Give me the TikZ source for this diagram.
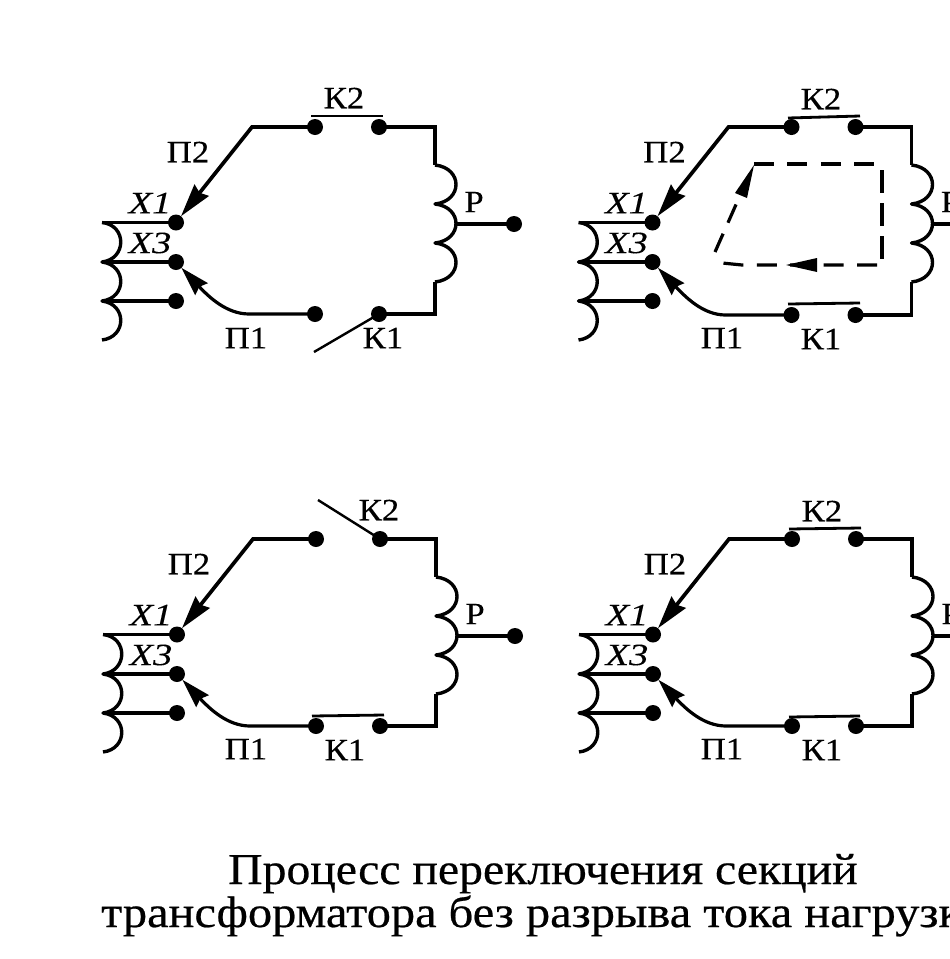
\documentclass[tikz,border=0pt]{standalone}
\usepackage{fontspec}
\setmainfont{Liberation Serif}
\newfontfamily\ttlfont[FakeStretch=1.084,FakeBold=0.5]{Liberation Serif}
\newfontfamily\ttlfontb[FakeStretch=1.10,FakeBold=0.5]{Liberation Serif}
\newfontfamily\lblfont[FakeStretch=1.12,FakeBold=0.3]{Liberation Serif}
\newfontfamily\xfont[FakeStretch=1.24,FakeBold=0.2]{Liberation Serif Italic}
\usetikzlibrary{arrows.meta}
\tikzset{
  x=1pt,y=-1pt,
  wire/.style={line width=3.7pt,line join=miter},
  coilw/.style={line width=3.4pt,line join=round},
  bar/.style={line width=2.8pt},
  blade/.style={line width=2.4pt},
  dot/.style={circle,fill=black,inner sep=0pt,minimum size=16pt,outer sep=-1.5pt},
  lbl/.style={inner sep=0pt,font=\fontsize{31}{31}\lblfont},
  xlbl/.style={inner sep=0pt,font=\fontsize{31}{31}\xfont},
  ttl/.style={inner sep=0pt,anchor=base west,font=\fontsize{44}{44}\ttlfont},
  ttlb/.style={inner sep=0pt,anchor=base west,font=\fontsize{44}{44}\ttlfontb},
  arr2/.style={-{Stealth[length=33pt,width=18pt,inset=3pt]},shorten >=1.5pt},
  arr1/.style={-{Stealth[length=29pt,width=17pt,inset=3pt]},shorten >=1.5pt},
  loopd/.style={line width=3.2pt,dash pattern=on 20pt off 13.4pt},
}
% #1 prefix, #2 dx, #3 dy, #4 bottom y
\newcommand{\sectionpanel}[4]{%
 \begin{scope}[shift={(#2,#3)}]
  \node[dot] (#1x1) at (176,222.5) {};
  \node[dot] (#1x3) at (176,262) {};
  \node[dot] (#1x5) at (176,301) {};
  \coordinate (#1c0) at (102,222.5);
  \coordinate (#1c1) at (102,262);
  \coordinate (#1c2) at (102,301);
  \coordinate (#1c3) at (102,340);
  \draw[coilw] (#1c0) .. controls (127,225) and (127,259) .. (#1c1)
     .. controls (127,265) and (127,298) .. (#1c2)
     .. controls (127,304) and (127,337) .. (#1c3);
  \draw[wire] (#1c0) -- (#1x1);
  \draw[wire] (#1c1) -- (#1x3);
  \draw[wire] (#1c2) -- (#1x5);
  \node[dot] (#1k2a) at (315,127) {};
  \node[dot] (#1k2b) at (379,127) {};
  \node[dot] (#1k1a) at (315,#4) {};
  \node[dot] (#1k1b) at (379,#4) {};
  \node[dot] (#1out) at (514,224) {};
  \coordinate (#1tl) at (252,127);
  \coordinate (#1tr) at (435,127);
  \coordinate (#1r0) at (435,165);
  \coordinate (#1r1) at (435,204);
  \coordinate (#1r2) at (435,243);
  \coordinate (#1r3) at (435,282);
  \coordinate (#1br) at (435,#4);
  \coordinate (#1bl) at (249,#4);
  \coordinate (#1tap) at (455,224);
  \draw[wire,arr2] (#1k2a) -- (#1tl) -- (#1x1);
  \draw[wire] (#1k2b) -- (#1tr) -- (#1r0);
  \draw[coilw] (#1r0) .. controls (463,168) and (463,201) .. (#1r1)
     .. controls (463,207) and (463,240) .. (#1r2)
     .. controls (463,246) and (463,279) .. (#1r3);
  \draw[wire] (#1r3) -- (#1br) -- (#1k1b);
  \draw[wire] (#1tap) -- (#1out);
  \draw[line width=3.2pt,arr1] (#1k1a) -- (#1bl) .. controls (226,#4) and (208,296) .. (#1x3);
  \node[xlbl] (#1lx1) at (150,203) {X1};
  \node[xlbl] (#1lx3) at (150,243) {X3};
  \node[lbl] (#1lp2) at (188,152) {П2};
  \node[lbl] (#1lr) at (474,202) {Р};
 \end{scope}}
\begin{document}
\begin{tikzpicture}
\useasboundingbox (0,0) rectangle (950,959);
\clip (0,0) rectangle (950,959);
\fill[white] (0,0) rectangle (950,959);

% top left: K1 open
\sectionpanel{a}{0}{0}{314}
\coordinate (aopen) at (314,352);
\draw[bar] (311,116) -- (383,116);
\draw[blade] (ak1b) -- (aopen);
\node[lbl] (ak2) at (344,98) {К2};
\node[lbl] (ak1) at (383,338) {К1};
\node[lbl] (ap1) at (246,338) {П1};

% top right: both closed, with current loop
\sectionpanel{b}{476.5}{0}{315}
\draw[bar] (788,118) -- (860,116);
\draw[bar] (788,304) -- (860,303);
\node[lbl] (bk2) at (821,99) {К2};
\node[lbl] (bk1) at (821,339) {К1};
\node[lbl] (bp1) at (722,338) {П1};
\coordinate (d1) at (754,164);
\coordinate (d2) at (877,164);
\coordinate (d3) at (882,170);
\coordinate (d4) at (882,259);
\coordinate (d5) at (877,265);
\coordinate (d6) at (742,265);
\coordinate (d7) at (722,263);
\coordinate (d8) at (715,252);
\coordinate (d9) at (746,182);
\draw[loopd] (d1) -- (d2);
\draw[line width=3.2pt,dash pattern=on 23pt off 10pt] (d3) -- (d4);
\draw[loopd] (d5) -- (d6) -- (d7);
\draw[line width=3.2pt,dash pattern=on 20pt off 12pt] (d8) -- (d9);
\fill (754,165) -- (735,193) -- (747,198) -- cycle;
\fill (786,265) -- (817,258) -- (817,272) -- cycle;

% bottom left: K2 open
\sectionpanel{c}{1}{412}{314}
\coordinate (copen) at (318,500);
\draw[bar] (312,716) -- (384,715);
\draw[blade] (ck2b) -- (copen);
\node[lbl] (ck2) at (379,510) {К2};
\node[lbl] (ck1) at (345,750) {К1};
\node[lbl] (cp1) at (246,749) {П1};

% bottom right: both closed
\sectionpanel{d}{477}{412}{314}
\draw[bar] (789,529) -- (861,528);
\draw[bar] (789,717) -- (860,716);
\node[lbl] (dk2) at (822,511) {К2};
\node[lbl] (dk1) at (822,750) {К1};
\node[lbl] (dp1) at (722,749) {П1};

% caption
\node[ttl] (t1) at (228,884) {Процесс переключения секций};
\node[ttlb] (t2) at (101,927) {трансформатора без разрыва тока нагрузки};
\end{tikzpicture}
\end{document}
